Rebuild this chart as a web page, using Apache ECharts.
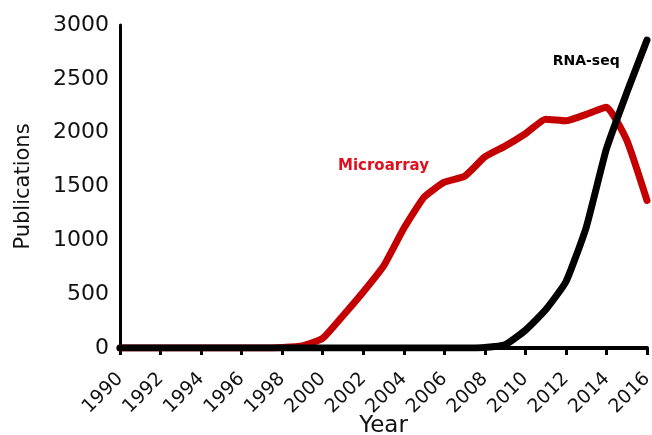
<!DOCTYPE html>
<html><head><meta charset="utf-8">
<script src="https://cdn.jsdelivr.net/npm/echarts@6/dist/echarts.min.js"></script>
<style>html,body{margin:0;padding:0;background:#fff}#c{width:652px;height:435px}</style>
</head><body><div id="c"></div>
<script>
var years = [];
for (var y = 1990; y <= 2016; y++) years.push(String(y));
var microarray = [0,0,0,0,0,0,0,0,5,20,90,300,520,760,1110,1400,1540,1595,1775,1875,1990,2125,2110,2170,2235,1930,1370];
var rnaseq     = [0,0,0,0,0,0,0,0,0,0,0,0,0,0,0,0,0,0,5,30,165,355,615,1120,1850,2370,2860];
var yTicks = [0,500,1000,1500,2000,2500,3000];
var font = 'DejaVu Sans';
var chart = echarts.init(document.getElementById('c'));
chart.setOption({
  animation:false,
  grid:{left:120,right:5,top:25,bottom:87,containLabel:false,outerBoundsMode:'none'},
  xAxis:{type:'category',data:years,boundaryGap:false,
    name:'Year',nameLocation:'middle',nameGap:67,nameMoveOverlap:false,
    nameTextStyle:{fontFamily:font,fontSize:23,color:'#111'},
    axisLine:{lineStyle:{color:'#000',width:4}},
    axisTick:{interval:1,length:7,lineStyle:{color:'#000',width:3}},
    axisLabel:{interval:1,rotate:45,fontFamily:font,fontSize:19,color:'#111',margin:28},
    splitLine:{show:false}},
  yAxis:{type:'value',min:yTicks[0],max:yTicks[yTicks.length-1],interval:500,
    name:'Publications',nameLocation:'middle',nameGap:86,nameMoveOverlap:false,
    nameTextStyle:{fontFamily:font,fontSize:21,color:'#111'},
    axisLine:{show:true,lineStyle:{color:'#000',width:3}},
    axisTick:{show:false},
    axisLabel:{fontFamily:font,fontSize:22,color:'#111',margin:11,formatter:function(v){return String(v);}},
    splitLine:{show:false}},
  series:[
    {name:'Microarray',type:'line',data:microarray,showSymbol:false,smooth:0.15,
     lineStyle:{color:'#c40000',width:7,cap:'round',join:'round'},
     markPoint:{symbol:'circle',symbolSize:0,data:[{coord:[13.3,1690],value:'Microarray'}],
       label:{show:true,position:'inside',formatter:'Microarray',color:'#e0101f',fontFamily:font,fontWeight:'bold',fontSize:15}}},
    {name:'RNA-seq',type:'line',data:rnaseq,showSymbol:false,smooth:0.15,
     lineStyle:{color:'#000',width:7,cap:'round',join:'round'},
     markPoint:{symbol:'circle',symbolSize:0,data:[{coord:[23.14,2665],value:'RNA-seq'}],
       label:{show:true,position:'inside',formatter:'RNA-seq',color:'#000',fontFamily:font,fontWeight:'bold',fontSize:14}}}
  ]
});
</script></body></html>
